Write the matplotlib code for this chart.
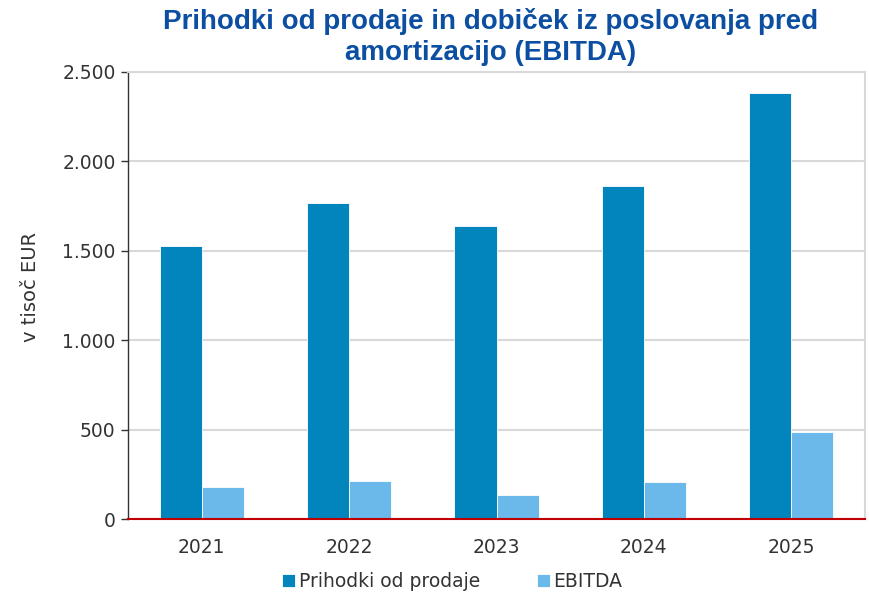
import numpy as np
import matplotlib.pyplot as plt
from matplotlib.ticker import FuncFormatter

years = ['2021', '2022', '2023', '2024', '2025']
prihodki = [1527, 1767, 1639, 1862, 2383]
ebitda = [179, 212, 134, 207, 487]

series_names = ['Prihodki od prodaje', 'EBITDA']
colors = ['#0284BC', '#6BB8EA']

plt.rcParams['font.family'] = ['DejaVu Sans']

fig = plt.figure(figsize=(8.69, 5.92), dpi=100)
ax = fig.add_axes([0.1473, 0.1233, 0.8481, 0.7551])

x = np.arange(len(years))
w = 0.285
ax.bar(x - w / 2, prihodki, w, color=colors[0], edgecolor='white', linewidth=0.6, label=series_names[0], zorder=3)
ax.bar(x + w / 2, ebitda, w, color=colors[1], edgecolor='white', linewidth=0.6, label=series_names[1], zorder=3)

ax.set_xlim(-0.5, len(years) - 0.5)
ax.set_ylim(0, 2500)
ax.set_yticks(np.arange(0, 2501, 500))
ax.yaxis.set_major_formatter(FuncFormatter(lambda v, p: f'{int(v):,}'.replace(',', '.')))
ax.set_xticks(x)
ax.set_xticklabels(years)

ax.grid(axis='y', color='#d9d9d9', linewidth=1.5, zorder=0)
ax.tick_params(axis='y', direction='out', length=5, width=1, color='#333333', labelsize=13.5, labelcolor='#333333', pad=4)
ax.tick_params(axis='x', length=0, labelsize=13.5, labelcolor='#333333', pad=14)

for s in ['top', 'right']:
    ax.spines[s].set_color('#d9d9d9')
    ax.spines[s].set_linewidth(1.5)
ax.spines['left'].set_color('#333333')
ax.spines['left'].set_linewidth(1)
ax.spines['bottom'].set_color('#C00000')
ax.spines['bottom'].set_linewidth(1.5)
ax.spines['bottom'].set_zorder(4)

ax.set_ylabel('v tisoč EUR', fontsize=14, color='#333333')
ax.yaxis.set_label_coords(-0.12, 0.52)

fig.text(0.564, 0.937, 'Prihodki od prodaje in dobiček iz poslovanja pred\namortizacijo (EBITDA)',
         ha='center', va='center', fontsize=20, fontweight='bold', color='#0B4EA2',
         family='Liberation Sans', linespacing=1.25)

ax.legend(loc='upper center', bbox_to_anchor=(0.44, -0.08), ncol=2, frameon=False,
          fontsize=13.5, handlelength=0.7, handleheight=0.7, handletextpad=0.2, columnspacing=3.0,
          labelcolor='#333333')

fig.savefig('out.png', dpi=100)
